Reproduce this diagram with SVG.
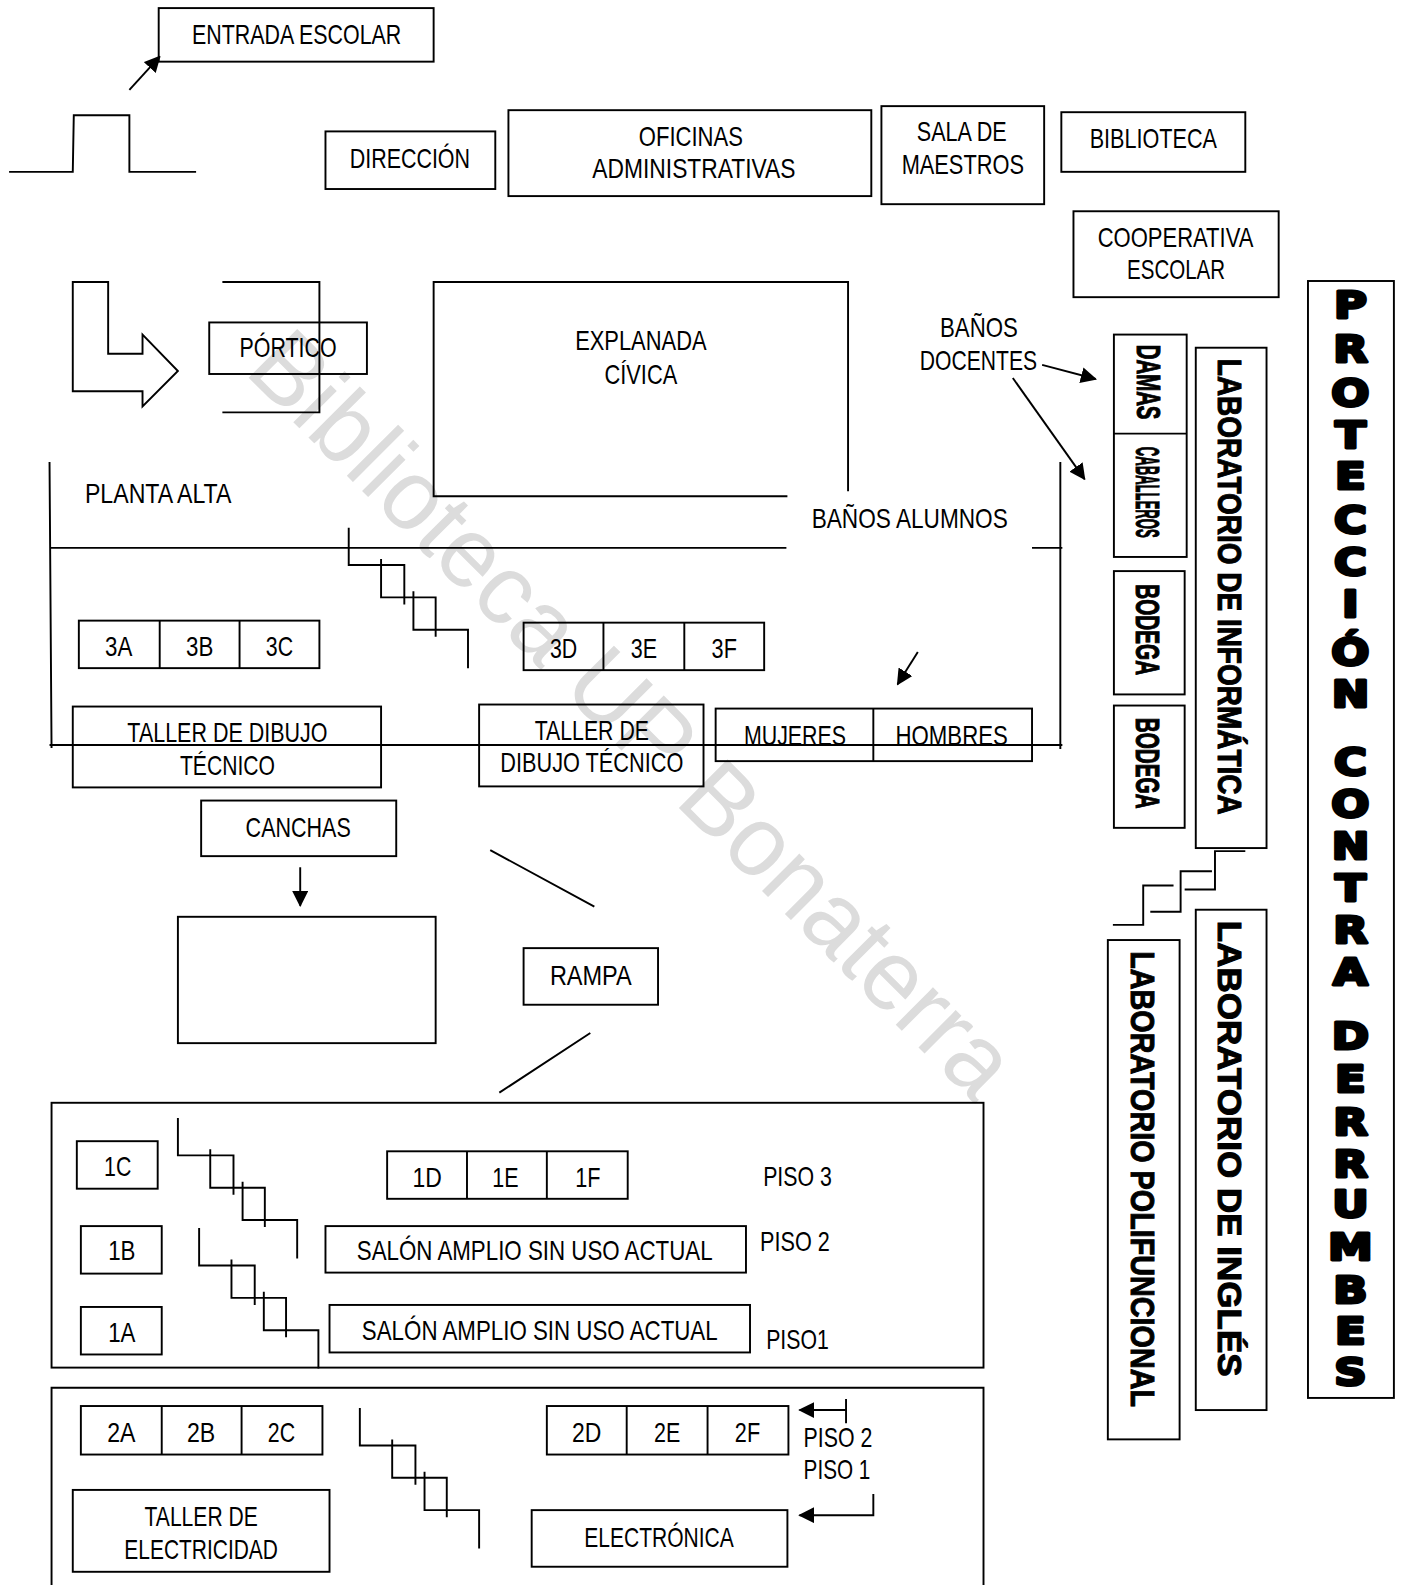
<svg xmlns="http://www.w3.org/2000/svg" xmlns:xlink="http://www.w3.org/1999/xlink" width="1403" height="1585" viewBox="0 0 1403 1585">
<style>
text{font-family:"Liberation Sans",Arial,sans-serif;fill:#000;font-size:27px}
rect,.l{fill:none;stroke:#000;stroke-width:1.9}
.v{font-weight:bold;font-size:33px;stroke:#000;stroke-width:1}
.big{font-family:"DejaVu Sans",sans-serif;font-weight:bold;font-size:37px;text-anchor:middle;stroke:#000;stroke-width:3;stroke-linejoin:round}
#watermark{font-size:100px;fill:#dcdcdc}
</style>
<defs>
<marker id="b" viewBox="0 0 12 12" refX="11" refY="6" markerWidth="16" markerHeight="16" markerUnits="userSpaceOnUse" orient="auto"><path d="M0,0L12,6L0,12Z" fill="#000"/></marker>
<path id="st" class="l" d="M0,0V37H55V76M32,31V69H86V108M64,63V101H118V139"/>
</defs>
<rect x="0" y="0" width="1403" height="1585" style="fill:#fff;stroke:none"/>
<text id="watermark" transform="translate(243,372) rotate(45)" textLength="1035" lengthAdjust="spacingAndGlyphs">Biblioteca UP Bonaterra</text>
<g transform="scale(1.0108)">
<g id="connectors">
<path class="l" d="M9,170H72L73,114H128V170H194"/>
<path class="l" d="M128,89L158,56" marker-end="url(#b)"/>
<path class="l" d="M1031,361L1084,375" marker-end="url(#b)"/>
<path class="l" d="M1002,374L1073,474" marker-end="url(#b)"/>
<path class="l" d="M908,645L888,677" marker-end="url(#b)"/>
<path class="l" d="M297,858V896" marker-end="url(#b)"/>
<path class="l" d="M485,841L588,897M584,1022L494,1081"/>
<path class="l" d="M837,1395H791" marker-end="url(#b)"/>
<path class="l" d="M837,1384V1408"/>
<path class="l" d="M864,1478V1499H791" marker-end="url(#b)"/>
<path class="l" d="M1232,842H1202V880H1172M1199,862H1168V902H1138M1161,876H1131V915H1101"/>
</g>
<g id="plan">
<path class="l" d="M72,279H107V350H141V331L176,367L141,402V387H72Z"/>
<path class="l" d="M220,279H316V408H220"/>
<path class="l" d="M779,491H429V279H839V486"/>
<path class="l" d="M49,457L51,740M49,542H778M1021,542H1051M1049,457V741M49,737H1051"/>
<use xlink:href="#st" x="345" y="522"/>
<use xlink:href="#st" x="176" y="1106"/>
<use xlink:href="#st" x="197" y="1215"/>
<use xlink:href="#st" x="356" y="1393"/>
<rect x="176" y="907" width="255" height="125"/>
<rect x="51" y="1091" width="922" height="262"/>
<path class="l" d="M51,1600V1373H973V1600"/>
</g>
<g id="entrada"><rect x="157" y="8" width="272" height="53"/><text x="190" y="44" textLength="207" lengthAdjust="spacingAndGlyphs">ENTRADA ESCOLAR</text></g>
<g id="direccion"><rect x="322" y="130" width="168" height="57"/><text x="346" y="166" textLength="119" lengthAdjust="spacingAndGlyphs">DIRECCIÓN</text></g>
<g id="oficinas"><rect x="503" y="109" width="359" height="85"/><text x="632" y="144" textLength="103" lengthAdjust="spacingAndGlyphs">OFICINAS</text><text x="586" y="176" textLength="201" lengthAdjust="spacingAndGlyphs">ADMINISTRATIVAS</text></g>
<g id="sala"><rect x="872" y="105" width="161" height="97"/><text x="907" y="139" textLength="89" lengthAdjust="spacingAndGlyphs">SALA DE</text><text x="892" y="172" textLength="121" lengthAdjust="spacingAndGlyphs">MAESTROS</text></g>
<g id="biblioteca"><rect x="1050" y="111" width="182" height="59"/><text x="1078" y="146" textLength="126" lengthAdjust="spacingAndGlyphs">BIBLIOTECA</text></g>
<g id="cooperativa"><rect x="1062" y="209" width="203" height="85"/><text x="1086" y="244" textLength="154" lengthAdjust="spacingAndGlyphs">COOPERATIVA</text><text x="1115" y="276" textLength="97" lengthAdjust="spacingAndGlyphs">ESCOLAR</text></g>
<g id="portico"><rect x="207" y="319" width="156" height="51"/><text x="237" y="353" textLength="96" lengthAdjust="spacingAndGlyphs">PÓRTICO</text></g>
<g id="explanada"><text x="569" y="346" textLength="130" lengthAdjust="spacingAndGlyphs">EXPLANADA</text><text x="598" y="380" textLength="72" lengthAdjust="spacingAndGlyphs">CÍVICA</text></g>
<g id="banos-docentes"><text x="930" y="333" textLength="77" lengthAdjust="spacingAndGlyphs">BAÑOS</text><text x="910" y="366" textLength="116" lengthAdjust="spacingAndGlyphs">DOCENTES</text></g>
<g id="planta-alta"><text x="84" y="498" textLength="145" lengthAdjust="spacingAndGlyphs">PLANTA ALTA</text></g>
<g id="banos-alumnos"><text x="803" y="522" textLength="194" lengthAdjust="spacingAndGlyphs">BAÑOS ALUMNOS</text></g>
<g id="aulas-3a"><rect x="78" y="614" width="238" height="47"/><path class="l" d="M158,614V661M237,614V661"/><text x="104" y="649" textLength="27" lengthAdjust="spacingAndGlyphs">3A</text><text x="184" y="649" textLength="27" lengthAdjust="spacingAndGlyphs">3B</text><text x="263" y="649" textLength="27" lengthAdjust="spacingAndGlyphs">3C</text></g>
<g id="aulas-3d"><rect x="518" y="616" width="238" height="47"/><path class="l" d="M597,616V663M677,616V663"/><text x="544" y="651" textLength="27" lengthAdjust="spacingAndGlyphs">3D</text><text x="624" y="651" textLength="26" lengthAdjust="spacingAndGlyphs">3E</text><text x="704" y="651" textLength="25" lengthAdjust="spacingAndGlyphs">3F</text></g>
<g id="taller-dibujo-1"><rect x="72" y="699" width="305" height="80"/><text x="126" y="734" textLength="198" lengthAdjust="spacingAndGlyphs">TALLER DE DIBUJO</text><text x="178" y="767" textLength="94" lengthAdjust="spacingAndGlyphs">TÉCNICO</text></g>
<g id="taller-dibujo-2"><rect x="474" y="697" width="222" height="81"/><text x="529" y="732" textLength="113" lengthAdjust="spacingAndGlyphs">TALLER DE</text><text x="495" y="764" textLength="181" lengthAdjust="spacingAndGlyphs">DIBUJO TÉCNICO</text></g>
<g id="banos-alumnos-salas"><rect x="708" y="701" width="313" height="52"/><path class="l" d="M864,701V753"/><text x="736" y="737.5" textLength="101" lengthAdjust="spacingAndGlyphs">MUJERES</text><text x="886" y="737.5" textLength="111" lengthAdjust="spacingAndGlyphs">HOMBRES</text></g>
<g id="canchas"><rect x="199" y="792" width="193" height="55"/><text x="243" y="828" textLength="104" lengthAdjust="spacingAndGlyphs">CANCHAS</text></g>
<g id="rampa"><rect x="518" y="938" width="133" height="56"/><text x="544" y="974" textLength="81" lengthAdjust="spacingAndGlyphs">RAMPA</text></g>
<g id="aula-1c"><rect x="76" y="1129" width="80" height="47"/><text x="103" y="1163" textLength="27" lengthAdjust="spacingAndGlyphs">1C</text></g>
<g id="aula-1b"><rect x="80" y="1213" width="80" height="47"/><text x="107" y="1247" textLength="27" lengthAdjust="spacingAndGlyphs">1B</text></g>
<g id="aula-1a"><rect x="80" y="1293" width="80" height="47"/><text x="107" y="1328" textLength="27" lengthAdjust="spacingAndGlyphs">1A</text></g>
<g id="aulas-1d"><rect x="383" y="1139" width="238" height="47"/><path class="l" d="M462,1139V1186M541,1139V1186"/><text x="408" y="1174" textLength="29" lengthAdjust="spacingAndGlyphs">1D</text><text x="487" y="1174" textLength="26" lengthAdjust="spacingAndGlyphs">1E</text><text x="569" y="1174" textLength="25" lengthAdjust="spacingAndGlyphs">1F</text></g>
<g id="pisos-1"><text x="755" y="1173" textLength="68" lengthAdjust="spacingAndGlyphs">PISO 3</text><text x="752" y="1238" textLength="69" lengthAdjust="spacingAndGlyphs">PISO 2</text><text x="758" y="1335" textLength="62" lengthAdjust="spacingAndGlyphs">PISO1</text></g>
<g id="salon-1"><rect x="322" y="1213" width="416" height="46"/><text x="353" y="1247" textLength="352" lengthAdjust="spacingAndGlyphs">SALÓN AMPLIO SIN USO ACTUAL</text></g>
<g id="salon-2"><rect x="326" y="1291" width="416" height="47"/><text x="358" y="1326" textLength="352" lengthAdjust="spacingAndGlyphs">SALÓN AMPLIO SIN USO ACTUAL</text></g>
<g id="aulas-2a"><rect x="80" y="1391" width="239" height="48"/><path class="l" d="M160,1391V1439M239,1391V1439"/><text x="106" y="1427" textLength="28" lengthAdjust="spacingAndGlyphs">2A</text><text x="185" y="1427" textLength="28" lengthAdjust="spacingAndGlyphs">2B</text><text x="265" y="1427" textLength="27" lengthAdjust="spacingAndGlyphs">2C</text></g>
<g id="aulas-2d"><rect x="541" y="1391" width="239" height="48"/><path class="l" d="M620,1391V1439M700,1391V1439"/><text x="566" y="1427" textLength="29" lengthAdjust="spacingAndGlyphs">2D</text><text x="647" y="1427" textLength="26" lengthAdjust="spacingAndGlyphs">2E</text><text x="727" y="1427" textLength="25" lengthAdjust="spacingAndGlyphs">2F</text></g>
<g id="pisos-2"><text x="795" y="1432" textLength="68" lengthAdjust="spacingAndGlyphs">PISO 2</text><text x="795" y="1463" textLength="66" lengthAdjust="spacingAndGlyphs">PISO 1</text></g>
<g id="taller-electricidad"><rect x="72" y="1474" width="254" height="81"/><text x="143" y="1510" textLength="112" lengthAdjust="spacingAndGlyphs">TALLER DE</text><text x="123" y="1542" textLength="152" lengthAdjust="spacingAndGlyphs">ELECTRICIDAD</text></g>
<g id="electronica"><rect x="526" y="1494" width="253" height="56"/><text x="578" y="1530" textLength="148" lengthAdjust="spacingAndGlyphs">ELECTRÓNICA</text></g>
<g id="banos-docentes-salas"><rect x="1102" y="331" width="72" height="220"/><path class="l" d="M1102,429H1174"/><text class="v" transform="translate(1125,341) rotate(90)" textLength="74" lengthAdjust="spacingAndGlyphs">DAMAS</text><text class="v" transform="translate(1124,442) rotate(90)" textLength="90" lengthAdjust="spacingAndGlyphs">CABALLEROS</text></g>
<g id="bodega-1"><rect x="1102" y="565" width="70" height="122"/><text class="v" transform="translate(1123.5,578) rotate(90)" textLength="90" lengthAdjust="spacingAndGlyphs">BODEGA</text></g>
<g id="bodega-2"><rect x="1102" y="698" width="70" height="121"/><text class="v" transform="translate(1123.5,710) rotate(90)" textLength="90" lengthAdjust="spacingAndGlyphs">BODEGA</text></g>
<g id="lab-informatica"><rect x="1183" y="344" width="70" height="495"/><text class="v" transform="translate(1204.5,355) rotate(90)" textLength="451" lengthAdjust="spacingAndGlyphs">LABORATORIO DE INFORMÁTICA</text></g>
<g id="lab-ingles"><rect x="1183" y="900" width="70" height="495"/><text class="v" transform="translate(1204.5,911) rotate(90)" textLength="451" lengthAdjust="spacingAndGlyphs">LABORATORIO DE INGLÉS</text></g>
<g id="lab-polifuncional"><rect x="1096" y="930" width="71" height="494"/><text class="v" transform="translate(1119,941) rotate(90)" textLength="451" lengthAdjust="spacingAndGlyphs">LABORATORIO POLIFUNCIONAL</text></g>
<g id="proteccion"><rect x="1294" y="278" width="85" height="1105"/><text class="big" transform="translate(1336,0) scale(1.2,1)" x="0 0 0 0 0 0 0 0 0 0 0 0 0 0 0 0 0 0 0 0 0 0 0 0 0 0 0" y="315 358 402 443 484 527 569 610 658 699 720 767 808 850 891 933 974 1000 1038 1080 1123 1164 1204 1247 1289 1330 1370">PROTECCIÓN CONTRA DERRUMBES</text></g>
</g>
</svg>
